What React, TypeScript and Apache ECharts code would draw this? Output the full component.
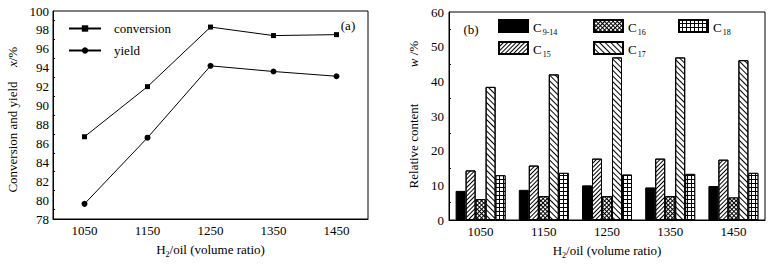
import React, { useEffect, useRef } from 'react';
import * as echarts from 'echarts';

const ratios = ['1050', '1150', '1250', '1350', '1450'];
const conversion = [86.7, 92.0, 98.3, 97.4, 97.5];
const yieldVals = [79.6, 86.6, 94.2, 93.6, 93.1];
const c9_14 = [8.4, 8.7, 10.0, 9.4, 9.8];
const c15 = [14.3, 15.7, 17.7, 17.7, 17.4];
const c16 = [6.0, 6.9, 6.9, 6.9, 6.5];
const c17 = [38.4, 42.0, 46.9, 46.9, 46.1];
const c18 = [12.9, 13.6, 13.1, 13.3, 13.6];

const FONT = '"Liberation Serif", "Times New Roman", serif';
const BLACK = '#000';

const subRich = {
  c: { fontSize: 13, fontFamily: FONT, color: BLACK, lineHeight: 16, verticalAlign: 'bottom' },
  s: { fontSize: 8, fontFamily: FONT, color: BLACK, lineHeight: 16, verticalAlign: 'bottom', padding: [0, 0, -2, 1] },
};

const nameRich = {
  n: { fontSize: 13, fontFamily: FONT, color: BLACK, lineHeight: 16, verticalAlign: 'bottom' },
  s: { fontSize: 8, fontFamily: FONT, color: BLACK, lineHeight: 16, verticalAlign: 'bottom', padding: [0, 0, -2, 0] },
};

const xName = '{n|H}{s|2}{n|/oil (volume ratio)}';

function barLegend(name: string, left: number, top: number) {
  return {
    data: [name],
    left,
    top,
    padding: 0,
    icon: 'rect',
    itemWidth: 29,
    itemHeight: 12,
    selectedMode: false,
    formatter: (n: string) => `{c|C}{s|${n.slice(1)}}`,
    textStyle: { rich: subRich, fontFamily: FONT, fontSize: 13, color: BLACK },
  };
}

const barBase = {
  type: 'bar',
  xAxisIndex: 2,
  yAxisIndex: 1,
  barWidth: 10,
  barGap: '0%',
};

export default function App() {
  const ref = useRef<HTMLDivElement>(null);
  useEffect(() => {
    const chart = echarts.init(ref.current!, null, { renderer: 'svg' });
    const axisLine = { show: true, lineStyle: { color: BLACK, width: 1 } };
    const labelStyle = { color: BLACK, fontFamily: FONT, fontSize: 13 };
    const option: any = {
      animation: false,
      backgroundColor: '#fff',
      textStyle: { fontFamily: FONT, color: BLACK },
      grid: [
        { left: 53, top: 11, width: 315, height: 208, show: true, borderColor: BLACK, borderWidth: 1, backgroundColor: 'transparent', containLabel: false },
        { left: 449, top: 12, width: 316, height: 208, show: true, borderColor: BLACK, borderWidth: 1, backgroundColor: 'transparent', containLabel: false },
      ],
      xAxis: [
        {
          gridIndex: 0, type: 'category', data: ratios, boundaryGap: true,
          axisLine, axisTick: { inside: true, length: 4, alignWithLabel: true, lineStyle: { color: BLACK } },
          axisLabel: { ...labelStyle, margin: 5, interval: 0 },
          splitLine: { show: false },
          name: xName, nameLocation: 'middle', nameGap: 21,
          nameTextStyle: { rich: nameRich, fontFamily: FONT, fontSize: 13, color: BLACK },
        },
        {
          gridIndex: 0, type: 'category', data: ratios, boundaryGap: true, position: 'bottom',
          axisLine: { show: false }, axisTick: { inside: true, length: 2, lineStyle: { color: BLACK } },
          axisLabel: { show: false }, splitLine: { show: false },
        },
        {
          gridIndex: 1, type: 'category', data: ratios, boundaryGap: true,
          axisLine, axisTick: { inside: true, length: 3, lineStyle: { color: BLACK } },
          axisLabel: { ...labelStyle, margin: 5, interval: 0 },
          splitLine: { show: false },
          name: xName, nameLocation: 'middle', nameGap: 21,
          nameTextStyle: { rich: nameRich, fontFamily: FONT, fontSize: 13, color: BLACK },
        },
      ],
      yAxis: [
        {
          gridIndex: 0, type: 'value', min: 78, max: 100, interval: 2,
          axisLine, axisTick: { inside: true, length: 4, lineStyle: { color: BLACK } },
          minorTick: { show: true, splitNumber: 2, length: 2, lineStyle: { color: BLACK } },
          axisLabel: { ...labelStyle, margin: 4 },
          splitLine: { show: false },
        },
        {
          gridIndex: 1, type: 'value', min: 0, max: 60, interval: 10,
          axisLine, axisTick: { inside: true, length: 4, lineStyle: { color: BLACK } },
          minorTick: { show: true, splitNumber: 2, length: 2, lineStyle: { color: BLACK } },
          axisLabel: { ...labelStyle, margin: 5 },
          splitLine: { show: false },
        },
      ],
      legend: [
        {
          data: ['conversion', 'yield'], orient: 'vertical', left: 68, top: 22, padding: 0,
          itemWidth: 32, itemHeight: 8, itemGap: 9, selectedMode: false,
          textStyle: { fontFamily: FONT, fontSize: 13, color: BLACK, padding: [0, 0, 0, 8] },
        },
        barLegend('C9-14', 498, 19),
        barLegend('C16', 593, 19),
        barLegend('C18', 678, 19),
        barLegend('C15', 498, 41),
        barLegend('C17', 593, 41),
      ],
      graphic: [
        { type: 'text', x: 12, y: 137, rotation: Math.PI / 2, style: { text: 'Conversion and yield', font: `13px ${FONT}`, fill: BLACK, align: 'center', verticalAlign: 'middle' } },
        { type: 'text', x: 12, y: 57, rotation: Math.PI / 2, style: { text: '{i|x}/%', font: `13px ${FONT}`, fill: BLACK, align: 'center', verticalAlign: 'middle', rich: { i: { fontStyle: 'italic', font: `italic 13px ${FONT}` } } } },
        { type: 'text', x: 413, y: 146, rotation: Math.PI / 2, style: { text: 'Relative content', font: `13px ${FONT}`, fill: BLACK, align: 'center', verticalAlign: 'middle' } },
        { type: 'text', x: 413, y: 54, rotation: Math.PI / 2, style: { text: '{i|w} /%', font: `13px ${FONT}`, fill: BLACK, align: 'center', verticalAlign: 'middle', rich: { i: { fontStyle: 'italic', font: `italic 13px ${FONT}` } } } },
        { type: 'text', x: 348, y: 25, style: { text: '(a)', font: `13px ${FONT}`, fill: BLACK, align: 'center', verticalAlign: 'middle' } },
        { type: 'text', x: 471, y: 29, style: { text: '(b)', font: `13px ${FONT}`, fill: BLACK, align: 'center', verticalAlign: 'middle' } },
      ],
      series: [
        {
          name: 'conversion', type: 'line', xAxisIndex: 0, yAxisIndex: 0, data: conversion,
          symbol: 'rect', symbolSize: 5, showAllSymbol: true,
          lineStyle: { color: BLACK, width: 1 }, itemStyle: { color: BLACK },
        },
        {
          name: 'yield', type: 'line', xAxisIndex: 0, yAxisIndex: 0, data: yieldVals,
          symbol: 'circle', symbolSize: 6, showAllSymbol: true,
          lineStyle: { color: BLACK, width: 1 }, itemStyle: { color: BLACK },
        },
        {
          ...barBase, name: 'C9-14', data: c9_14,
          itemStyle: { color: BLACK, borderColor: BLACK, borderWidth: 1 },
        },
        {
          ...barBase, name: 'C15', data: c15,
          itemStyle: {
            color: '#fff', borderColor: BLACK, borderWidth: 1,
            decal: { symbol: 'rect', symbolSize: 1, color: BLACK, dashArrayX: [1, 0], dashArrayY: [1, 1.4], rotation: -Math.PI / 4 },
          },
        },
        {
          ...barBase, name: 'C16', data: c16,
          itemStyle: {
            color: BLACK, borderColor: BLACK, borderWidth: 1,
            decal: { symbol: 'rect', symbolSize: 1, color: '#fff', dashArrayX: [2, 1], dashArrayY: [2, 1], rotation: Math.PI / 4 },
          },
        },
        {
          ...barBase, name: 'C17', data: c17,
          itemStyle: {
            color: '#fff', borderColor: BLACK, borderWidth: 1,
            decal: { symbol: 'rect', symbolSize: 1, color: BLACK, dashArrayX: [1, 0], dashArrayY: [1, 2.2], rotation: Math.PI / 4 },
          },
        },
        {
          ...barBase, name: 'C18', data: c18,
          itemStyle: {
            color: BLACK, borderColor: BLACK, borderWidth: 1,
            decal: { symbol: 'rect', symbolSize: 1, color: '#fff', dashArrayX: [3, 1], dashArrayY: [3, 1], rotation: 0 },
          },
        },
      ],
    };
    chart.setOption(option);
    return () => chart.dispose();
  }, []);
  return <div ref={ref} style={{ position: 'absolute', left: 0, top: 0, width: 772, height: 265 }} />;
}
